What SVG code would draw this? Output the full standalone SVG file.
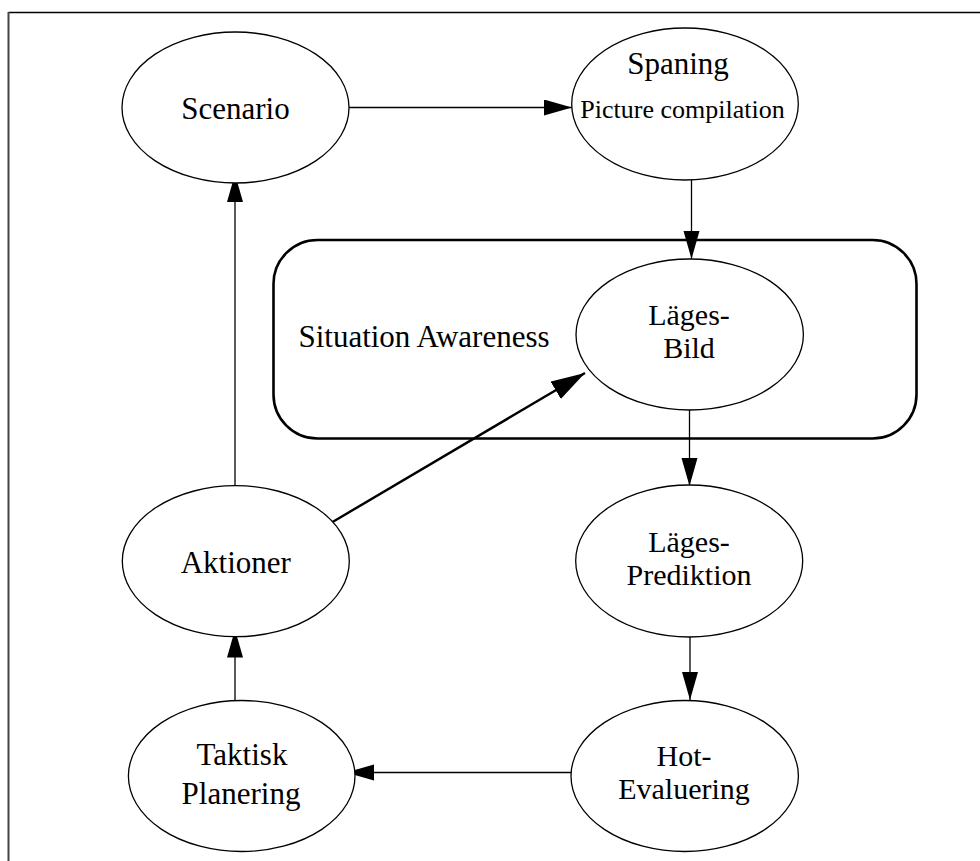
<svg xmlns="http://www.w3.org/2000/svg" width="980" height="861" viewBox="0 0 980 861">
<style>
.node{fill:#fff;stroke:#000;stroke-width:1.3}
.lbl{font-family:"Liberation Serif","Times New Roman",serif;font-size:31px;fill:#000;text-anchor:middle}
.two{font-size:30px}
.sm{font-size:26px}
.edge{stroke:#000;stroke-width:1.3;fill:none}
.thick{stroke-width:2.4}
</style>
<defs>
<marker id="ah" markerUnits="userSpaceOnUse" markerWidth="30" markerHeight="18" refX="28" refY="8" orient="auto">
<path d="M0,0 L28,8 L0,16 Z" fill="#000"/>
</marker>
<marker id="ahb" markerUnits="userSpaceOnUse" markerWidth="36" markerHeight="22" refX="34" refY="10" orient="auto">
<path d="M0,0 L34,10 L0,20 Z" fill="#000"/>
</marker>
</defs>
<g id="frame">
<line x1="8.5" y1="12.5" x2="980" y2="12.5" stroke="#000" stroke-width="1.5"/>
<line x1="8.5" y1="12" x2="8.5" y2="861" stroke="#444" stroke-width="2"/>
</g>
<g id="situation-awareness">
<rect x="273.5" y="240" width="643" height="198.5" rx="44" ry="44" fill="none" stroke="#000" stroke-width="2.6"/>
<text class="lbl" x="424" y="346.5">Situation Awareness</text>
</g>
<g id="connectors">
<line class="edge" x1="349" y1="107.5" x2="572" y2="107.5" marker-end="url(#ah)"/>
<line class="edge" x1="691.5" y1="180" x2="691.5" y2="259" marker-end="url(#ah)"/>
<line class="edge" x1="689.5" y1="410" x2="689.5" y2="486" marker-end="url(#ah)"/>
<line class="edge" x1="690" y1="636.5" x2="690" y2="700" marker-end="url(#ah)"/>
<line class="edge" x1="571" y1="772.5" x2="346" y2="772.5" marker-end="url(#ah)"/>
<line class="edge" x1="235" y1="700.5" x2="235" y2="629.5" marker-end="url(#ah)"/>
<line class="edge" x1="235" y1="485.5" x2="235" y2="174" marker-end="url(#ah)"/>
<line class="edge thick" x1="330" y1="523.5" x2="585" y2="373" marker-end="url(#ahb)"/>
</g>
<g id="scenario">
<ellipse class="node" cx="235.5" cy="107.5" rx="113.5" ry="75.5"/>
<text class="lbl" x="235.5" y="119">Scenario</text>
</g>
<g id="spaning">
<ellipse class="node" cx="685" cy="104" rx="113.3" ry="76"/>
<text class="lbl" x="678" y="74">Spaning</text>
<text class="lbl sm" x="682.5" y="118">Picture compilation</text>
</g>
<g id="lagesbild">
<ellipse class="node" cx="689.7" cy="334.5" rx="113.7" ry="75.5"/>
<text class="lbl two" x="689" y="324.5">Läges-</text>
<text class="lbl two" x="689" y="358">Bild</text>
</g>
<g id="lagesprediktion">
<ellipse class="node" cx="689.2" cy="561" rx="113.5" ry="76"/>
<text class="lbl two" x="689" y="551.5">Läges-</text>
<text class="lbl two" x="689" y="585">Prediktion</text>
</g>
<g id="hotevaluering">
<ellipse class="node" cx="684.7" cy="776" rx="113.7" ry="75.5"/>
<text class="lbl two" x="684" y="765.7">Hot-</text>
<text class="lbl two" x="684" y="799.2">Evaluering</text>
</g>
<g id="taktiskplanering">
<ellipse class="node" cx="241.7" cy="776" rx="113.3" ry="75.5"/>
<text class="lbl" x="242" y="765">Taktisk</text>
<text class="lbl" x="241" y="803.5">Planering</text>
</g>
<g id="aktioner">
<ellipse class="node" cx="235.8" cy="561.2" rx="113.5" ry="75.5"/>
<text class="lbl" x="235.8" y="573.3">Aktioner</text>
</g>
</svg>
